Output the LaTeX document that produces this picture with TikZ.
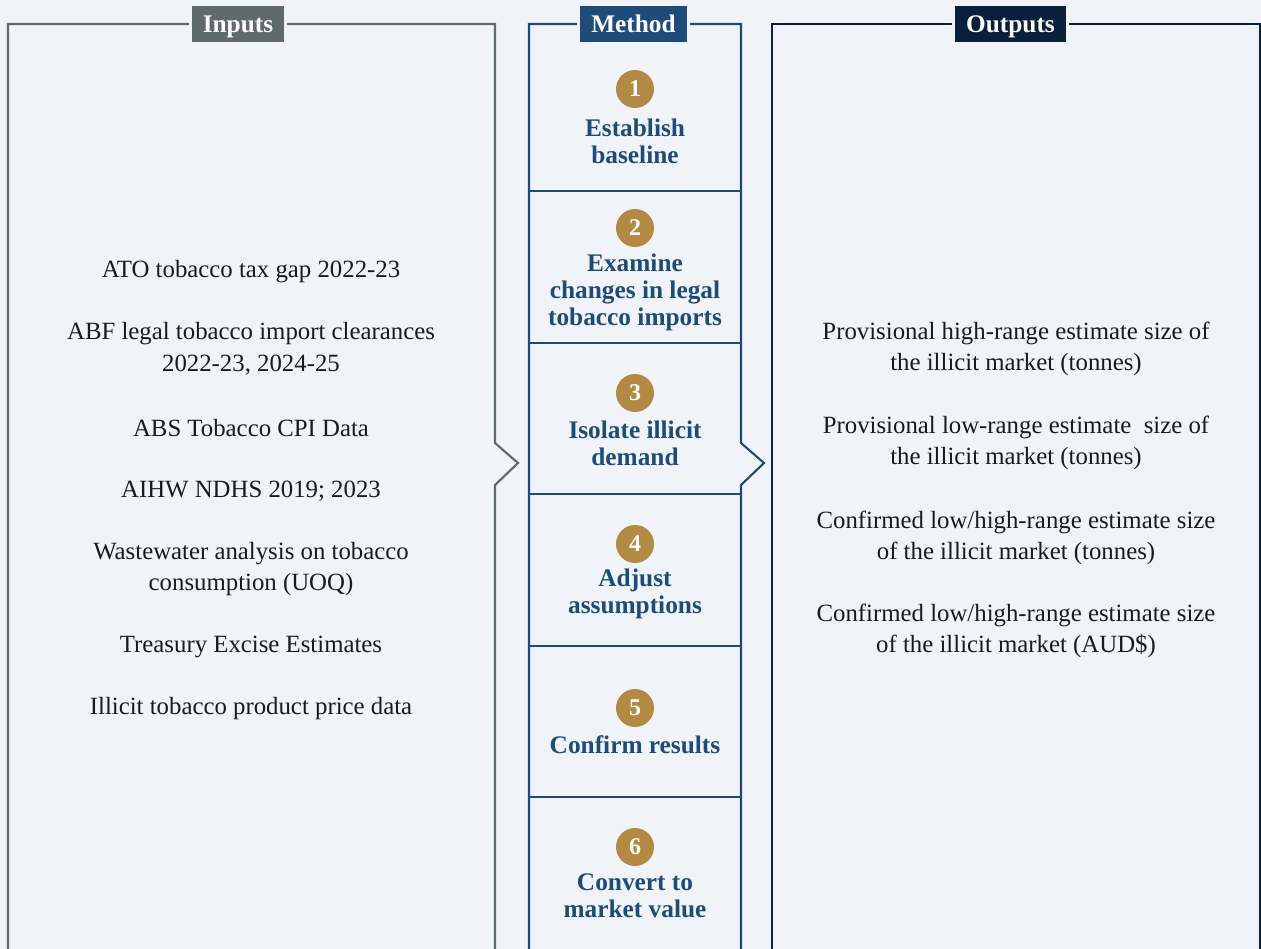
\documentclass[tikz,border=0pt]{standalone}
\usepackage{fontspec}
\setmainfont{Liberation Serif}
\definecolor{bg}{HTML}{F0F4F9}
\definecolor{ingray}{HTML}{5E6A6C}
\definecolor{methblue}{HTML}{1F4B78}
\definecolor{outnavy}{HTML}{0A1F3B}
\definecolor{gold}{HTML}{B38A43}
\definecolor{ink}{HTML}{1A1A1A}
\begin{document}
\begin{tikzpicture}[x=0.75pt,y=-0.75pt,
  frame/.style={line width=1.6pt, line join=miter},
  header/.style={fill=#1, draw=bg, line width=2.2pt, text=white, font=\fontsize{19}{22}\selectfont\bfseries,
    minimum height=38*0.75pt, inner xsep=9.5pt, inner ysep=0pt, text height=13.5pt, text depth=0pt},
  item/.style={text=ink, align=center, font=\fontsize{18.6}{23.6}\selectfont, inner sep=0pt},
  steptext/.style={text=methblue, align=center, font=\fontsize{19}{20.3}\selectfont\bfseries, inner sep=0pt},
  num/.style={circle, fill=gold, text=white, minimum size=38*0.75pt, inner sep=0pt,
    font=\fontsize{18}{18}\selectfont\bfseries},
  divider/.style={draw=methblue, line width=1.9pt}]
\useasboundingbox (0,0) rectangle (1261,949);
\fill[bg] (0,0) rectangle (1261,949);

% corner and notch points of the three column frames
\coordinate (inTL) at (8,24);   \coordinate (inTR) at (495,24);
\coordinate (inNa) at (495,443); \coordinate (inTip) at (518,463); \coordinate (inNb) at (495,485);
\coordinate (inBL) at (8,949);  \coordinate (inBR) at (495,949);
\coordinate (mTL) at (529,24);  \coordinate (mTR) at (741,24);
\coordinate (mNa) at (741,443); \coordinate (mTip) at (764,463); \coordinate (mNb) at (741,485);
\coordinate (mBL) at (529,949); \coordinate (mBR) at (741,949);
\coordinate (oTL) at (772,24);  \coordinate (oTR) at (1260,24);
\coordinate (oBL) at (772,949); \coordinate (oBR) at (1260,949);

% Inputs frame (open at the bottom, notch pointing into Method)
\draw[frame, ingray] (inBL) -- (inTL) -- (inTR) -- (inNa) -- (inTip) -- (inNb) -- (inBR);
% Method frame (notch pointing into Outputs)
\draw[frame, methblue] (mBL) -- (mTL) -- (mTR) -- (mNa) -- (mTip) -- (mNb) -- (mBR);
% Outputs frame
\draw[frame, outnavy] (oBL) -- (oTL) -- (oTR) -- (oBR);

% dividers between the method steps
\foreach \yy in {191,343,494,646,797}
  \draw[divider] (529,\yy) -- (741,\yy);

% column headers
\node[header=ingray]   (hin)  at (238,24)  {Inputs};
\node[header=methblue] (hmet) at (633.5,24) {Method};
\node[header=outnavy]  (hout) at (1010.5,24) {Outputs};

% method steps
\node[num] (n1) at (635,89)  {1};
\node[steptext] (s1) at (635,141) {Establish\\baseline};
\node[num] (n2) at (635,228) {2};
\node[steptext] (s2) at (635,292) {Examine\\changes in legal\\tobacco imports};
\node[num] (n3) at (635,393) {3};
\node[steptext] (s3) at (635,443) {Isolate illicit\\demand};
\node[num] (n4) at (635,544) {4};
\node[steptext] (s4) at (635,594) {Adjust\\assumptions};
\node[num] (n5) at (635,708) {5};
\node[steptext] (s5) at (635,745) {Confirm results};
\node[num] (n6) at (635,847) {6};
\node[steptext] (s6) at (635,896) {Convert to\\market value};

% inputs
\node[item] (i1) at (251,272)   {ATO tobacco tax gap 2022-23};
\node[item] (i2) at (251,349)   {ABF legal tobacco import clearances\\2022-23, 2024-25};
\node[item] (i3) at (251,428)   {ABS Tobacco CPI Data};
\node[item] (i4) at (251,491)   {AIHW NDHS 2019; 2023};
\node[item] (i5) at (251,569)   {Wastewater analysis on tobacco\\consumption (UOQ)};
\node[item] (i6) at (251,647)   {Treasury Excise Estimates};
\node[item] (i7) at (251,709)   {Illicit tobacco product price data};

% outputs
\node[item] (o1) at (1016,349)  {Provisional high-range estimate size of\\the illicit market (tonnes)};
\node[item] (o2) at (1016,443)  {Provisional low-range estimate\ \ size of\\the illicit market (tonnes)};
\node[item] (o3) at (1016,538)  {Confirmed low/high-range estimate size\\of the illicit market (tonnes)};
\node[item] (o4) at (1016,631)  {Confirmed low/high-range estimate size\\of the illicit market (AUD\$)};
\end{tikzpicture}
\end{document}
